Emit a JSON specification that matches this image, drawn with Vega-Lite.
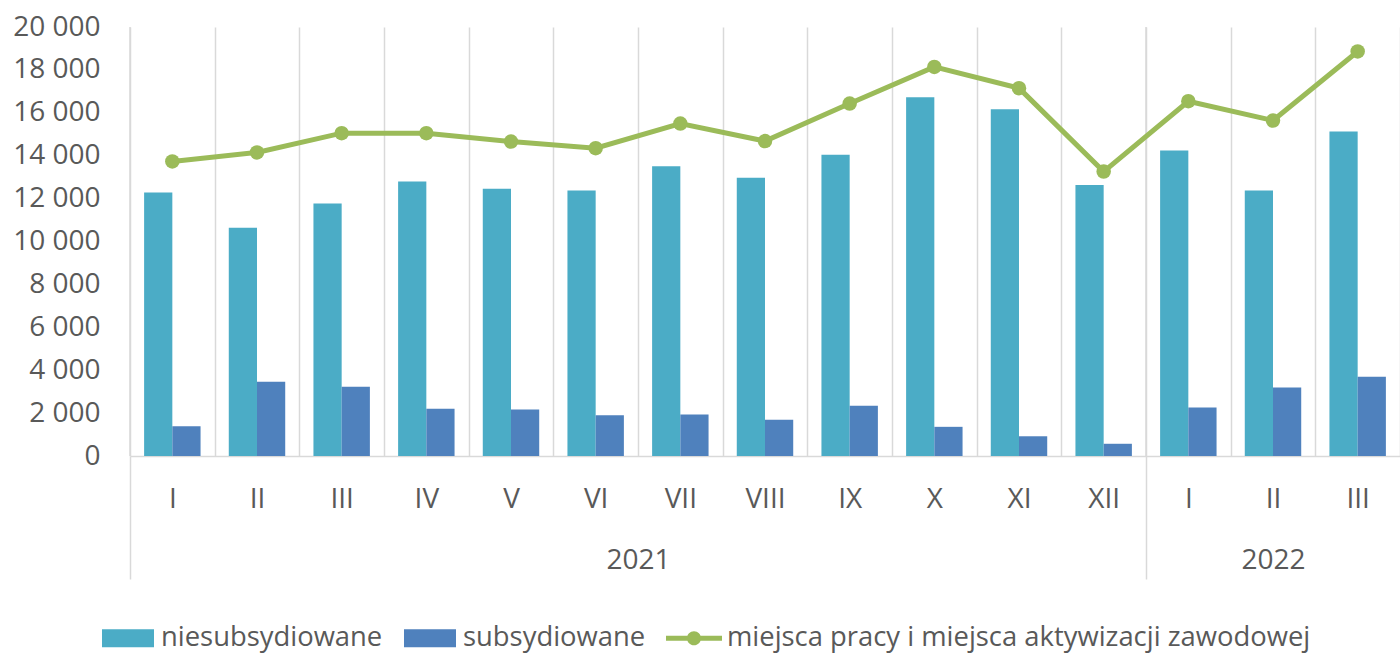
{
  "$schema": "https://vega.github.io/schema/vega-lite/v6.json",
  "width": 1270,
  "height": 429,
  "autosize": {"type": "none"},
  "padding": {"left": 130, "top": 27, "right": 0, "bottom": 197},
  "background": "white",
  "config": {
    "view": {"stroke": null},
    "font": "Open Sans",
    "axis": {"labelFont": "Open Sans", "labelFontSize": 28, "labelColor": "#595959"}
  },
  "datasets": {
    "main": [
      {"key": "2021-I", "series": "niesubsydiowane", "value": 12280},
      {"key": "2021-II", "series": "niesubsydiowane", "value": 10640},
      {"key": "2021-III", "series": "niesubsydiowane", "value": 11770},
      {"key": "2021-IV", "series": "niesubsydiowane", "value": 12800},
      {"key": "2021-V", "series": "niesubsydiowane", "value": 12460},
      {"key": "2021-VI", "series": "niesubsydiowane", "value": 12380},
      {"key": "2021-VII", "series": "niesubsydiowane", "value": 13510},
      {"key": "2021-VIII", "series": "niesubsydiowane", "value": 12970},
      {"key": "2021-IX", "series": "niesubsydiowane", "value": 14040},
      {"key": "2021-X", "series": "niesubsydiowane", "value": 16730},
      {"key": "2021-XI", "series": "niesubsydiowane", "value": 16170},
      {"key": "2021-XII", "series": "niesubsydiowane", "value": 12630},
      {"key": "2022-I", "series": "niesubsydiowane", "value": 14240},
      {"key": "2022-II", "series": "niesubsydiowane", "value": 12380},
      {"key": "2022-III", "series": "niesubsydiowane", "value": 15130},
      {"key": "2021-I", "series": "subsydiowane", "value": 1390},
      {"key": "2021-II", "series": "subsydiowane", "value": 3460},
      {"key": "2021-III", "series": "subsydiowane", "value": 3230},
      {"key": "2021-IV", "series": "subsydiowane", "value": 2200},
      {"key": "2021-V", "series": "subsydiowane", "value": 2170},
      {"key": "2021-VI", "series": "subsydiowane", "value": 1900},
      {"key": "2021-VII", "series": "subsydiowane", "value": 1930},
      {"key": "2021-VIII", "series": "subsydiowane", "value": 1690},
      {"key": "2021-IX", "series": "subsydiowane", "value": 2340},
      {"key": "2021-X", "series": "subsydiowane", "value": 1360},
      {"key": "2021-XI", "series": "subsydiowane", "value": 920},
      {"key": "2021-XII", "series": "subsydiowane", "value": 570},
      {"key": "2022-I", "series": "subsydiowane", "value": 2260},
      {"key": "2022-II", "series": "subsydiowane", "value": 3190},
      {"key": "2022-III", "series": "subsydiowane", "value": 3690},
      {"key": "2021-I", "series": "miejsca pracy i miejsca aktywizacji zawodowej", "value": 13730},
      {"key": "2021-II", "series": "miejsca pracy i miejsca aktywizacji zawodowej", "value": 14150},
      {"key": "2021-III", "series": "miejsca pracy i miejsca aktywizacji zawodowej", "value": 15050},
      {"key": "2021-IV", "series": "miejsca pracy i miejsca aktywizacji zawodowej", "value": 15050},
      {"key": "2021-V", "series": "miejsca pracy i miejsca aktywizacji zawodowej", "value": 14660},
      {"key": "2021-VI", "series": "miejsca pracy i miejsca aktywizacji zawodowej", "value": 14350},
      {"key": "2021-VII", "series": "miejsca pracy i miejsca aktywizacji zawodowej", "value": 15500},
      {"key": "2021-VIII", "series": "miejsca pracy i miejsca aktywizacji zawodowej", "value": 14680},
      {"key": "2021-IX", "series": "miejsca pracy i miejsca aktywizacji zawodowej", "value": 16430},
      {"key": "2021-X", "series": "miejsca pracy i miejsca aktywizacji zawodowej", "value": 18140},
      {"key": "2021-XI", "series": "miejsca pracy i miejsca aktywizacji zawodowej", "value": 17150},
      {"key": "2021-XII", "series": "miejsca pracy i miejsca aktywizacji zawodowej", "value": 13260},
      {"key": "2022-I", "series": "miejsca pracy i miejsca aktywizacji zawodowej", "value": 16540},
      {"key": "2022-II", "series": "miejsca pracy i miejsca aktywizacji zawodowej", "value": 15640},
      {"key": "2022-III", "series": "miejsca pracy i miejsca aktywizacji zawodowej", "value": 18860}
    ],
    "years": [
      {"year": "2021", "start": 0},
      {"year": "2022", "start": 12}
    ]
  },
  "layer": [
    {
      "data": {"name": "years"},
      "mark": {"type": "rule", "color": "#D9D9D9", "strokeWidth": 1.5},
      "encoding": {
        "x": {
          "field": "start",
          "type": "quantitative",
          "scale": {"domain": [0, 15], "nice": false, "zero": false},
          "axis": {
            "orient": "bottom",
            "title": null,
            "values": [0, 6, 12, 13.5],
            "labelExpr": "datum.value == 6 ? '2021' : datum.value == 13.5 ? '2022' : ''",
            "tickOpacity": {"condition": {"test": "datum.value == 0 || datum.value == 12", "value": 1}, "value": 0},
            "tickColor": "#D9D9D9",
            "tickWidth": 1.5,
            "tickSize": 123,
            "domain": false,
            "grid": false,
            "labelPadding": -33,
            "labelFlush": false,
            "labelOverlap": false,
            "labelBaseline": "top"
          }
        }
      }
    },
    {
      "data": {"name": "main"},
      "layer": [
        {
          "transform": [{"filter": "datum.series != 'miejsca pracy i miejsca aktywizacji zawodowej'"}],
          "mark": {"type": "bar"},
          "encoding": {
            "x": {
              "field": "key",
              "type": "nominal",
              "sort": null,
              "scale": {"paddingInner": 0, "paddingOuter": 0},
              "axis": {
                "orient": "bottom",
                "title": null,
                "labelExpr": "split(datum.value, '-')[1]",
                "labelAngle": 0,
                "grid": true,
                "gridColor": "#D9D9D9",
                "gridWidth": 1.5,
                "tickBand": "extent",
                "ticks": false,
                "tickSize": 0,
                "domain": true,
                "domainColor": "#D9D9D9",
                "domainWidth": 1.5,
                "labelPadding": 29,
                "labelBaseline": "top"
              }
            },
            "xOffset": {
              "field": "series",
              "type": "nominal",
              "sort": ["niesubsydiowane", "subsydiowane"],
              "scale": {"paddingInner": 0, "paddingOuter": 0.5}
            },
            "y": {
              "field": "value",
              "type": "quantitative",
              "scale": {"domain": [0, 20000], "nice": false},
              "axis": {
                "title": null,
                "values": [0, 2000, 4000, 6000, 8000, 10000, 12000, 14000, 16000, 18000, 20000],
                "labelExpr": "replace(format(datum.value, ',d'), ',', ' ')",
                "grid": false,
                "domain": false,
                "ticks": false,
                "tickSize": 0,
                "labelPadding": 30
              }
            },
            "color": {
              "field": "series",
              "type": "nominal",
              "scale": {
                "domain": ["niesubsydiowane", "subsydiowane", "miejsca pracy i miejsca aktywizacji zawodowej"],
                "range": ["#4BACC6", "#4F81BD", "#9BBB59"]
              },
              "legend": {
                "orient": "none",
                "direction": "horizontal",
                "legendX": -29,
                "legendY": 584,
                "title": null,
                "padding": 0,
                "symbolSize": 2916,
                "symbolStrokeWidth": 0,
                "symbolType": {"expr": "datum.value == 'miejsca pracy i miejsca aktywizacji zawodowej' ? 'M-1.037,-0.09L1.037,-0.09L1.037,0.09L-1.037,0.09Z M-0.26,0A0.26,0.26 0 1 1 0.26,0A0.26,0.26 0 1 1 -0.26,0Z' : 'M-0.963,-0.333L0.963,-0.333L0.963,0.333L-0.963,0.333Z'"},
                "labelFont": "Open Sans",
                "labelFontSize": 27.4,
                "labelColor": "#595959",
                "labelOffset": 6,
                "columnPadding": 20,
                "labelLimit": 0
              }
            }
          }
        },
        {
          "transform": [{"filter": "datum.series == 'miejsca pracy i miejsca aktywizacji zawodowej'"}],
          "mark": {
            "type": "line",
            "color": "#9BBB59",
            "strokeWidth": 5,
            "point": {"filled": true, "size": 210, "color": "#9BBB59", "opacity": 1}
          },
          "encoding": {
            "x": {"field": "key", "type": "nominal", "sort": null},
            "y": {"field": "value", "type": "quantitative"}
          }
        }
      ]
    }
  ],
  "resolve": {"scale": {"x": "independent"}}
}
